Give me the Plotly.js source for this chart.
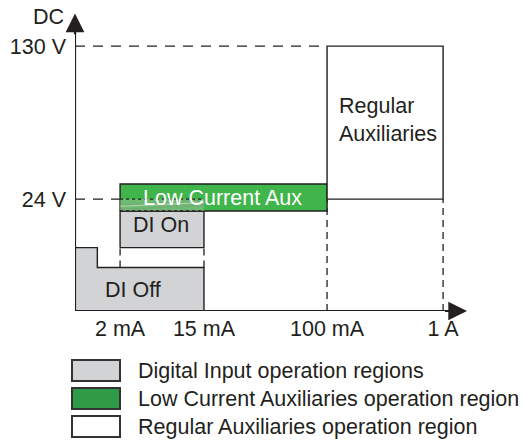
<!DOCTYPE html>
<html>
<head>
<meta charset="utf-8">
<script src="https://cdn.plot.ly/plotly-3.0.1.min.js"></script>
<style>html,body{margin:0;padding:0;background:#fff;}#chart{width:522px;height:440px;}</style>
</head>
<body>
<div id="chart"></div>
<script>
// ---- Data (schematic axis positions, 0..10 on both axes) ----
const currentLabels = ['2 mA', '15 mA', '100 mA', '1 A'];
const currentPos = [1.15, 3.29, 6.43, 9.39];
const voltageLabels = ['24 V', '130 V'];
const voltagePos = [3.78, 8.95];
const diOffStepX = 0.57;       // left step of DI Off region
const diOffLevels = [2.14, 1.47]; // DI Off top (left part), DI Off top (right part)
const diOnRange = [2.14, 3.38];   // DI On bottom / top
const lowCurrentRange = [3.38, 4.29]; // Low Current Aux bottom / top
const regionNames = ['Regular<br>Auxiliaries', 'Low Current Aux', 'DI On', 'DI Off'];
const legendLabels = ['Digital Input operation regions', 'Low Current Auxiliaries operation region', 'Regular Auxiliaries operation region'];

const INK = '#231f20';
const GRAY = '#d1d3d4';
const GREEN = '#3fb54b';
const GREEN_LEG = '#2f9b47';
const FONT = 'Liberation Sans, Arial, Helvetica, sans-serif';
const FS = 21.5;

const v24 = voltagePos[0], v130 = voltagePos[1];
const [x2m, x15m, x100m, x1A] = currentPos;

function line(x, y, dash, width, color) {
  return {x, y, type: 'scatter', mode: 'lines', hoverinfo: 'skip', showlegend: false,
          line: {color: color || INK, width: width || 1.3, dash: dash || 'solid'}};
}
function poly(x, y, fill, lw) {
  return {x, y, type: 'scatter', mode: 'lines', fill: 'toself', fillcolor: fill, hoverinfo: 'skip',
          showlegend: false, line: {color: INK, width: lw || 1.4}};
}

const traces = [];
// dashed guide lines
traces.push(line([0, x100m], [v130, v130], '10px,8px'));
traces.push(line([0, x2m], [v24, v24], '10px,8px'));
traces.push(line([x100m, x100m], [0, v24], '7px,5px'));
traces.push(line([x1A, x1A], [0, v24], '7px,5px'));
traces.push(line([x2m, x2m], [diOffLevels[1], diOnRange[0]], '7px,5px'));
traces.push(line([x15m, x15m], [diOffLevels[1], diOnRange[0]], '7px,5px'));

// DI Off region
traces.push(poly([0, 0, diOffStepX, diOffStepX, x15m, x15m, 0],
                 [0, diOffLevels[0], diOffLevels[0], diOffLevels[1], diOffLevels[1], 0, 0], GRAY));
// DI On region
traces.push(poly([x2m, x2m, x15m, x15m, x2m],
                 [diOnRange[0], diOnRange[1], diOnRange[1], diOnRange[0], diOnRange[0]], GRAY));
// Low Current Aux region
traces.push(poly([x2m, x2m, x100m, x100m, x2m],
                 [lowCurrentRange[0], lowCurrentRange[1], lowCurrentRange[1], lowCurrentRange[0], lowCurrentRange[0]], GREEN));
// overlap hatch (DI On / Low current)
traces.push({x: [x2m, x2m, x15m, x15m, x2m], y: [lowCurrentRange[0], v24, v24, lowCurrentRange[0], lowCurrentRange[0]],
             type: 'scatter', mode: 'lines', fill: 'toself', fillcolor: 'rgba(150,190,150,0.55)',
             line: {width: 0}, hoverinfo: 'skip', showlegend: false});
const hatchY = [lowCurrentRange[0], (lowCurrentRange[0] + v24) / 2, v24];
traces.push(line([x2m, x15m], [hatchY[0] + 0.05, hatchY[1]], 'solid', 0.6, 'rgba(120,150,120,0.8)'));
traces.push(line([x2m, x15m], [hatchY[1], hatchY[2] - 0.03], 'solid', 0.6, 'rgba(120,150,120,0.8)'));
traces.push(line([x2m, x15m], [hatchY[0] + 0.16, hatchY[2] - 0.12], 'solid', 0.6, 'rgba(230,240,230,0.9)'));
traces.push(line([x2m, x15m], [v24, v24], 'dot', 1.2));
traces.push(line([x2m, x15m], [lowCurrentRange[0], lowCurrentRange[0]], 'dot', 1.2));
// Regular Auxiliaries region
traces.push(poly([x100m, x100m, x1A, x1A, x100m], [v24, v130, v130, v24, v24], '#ffffff'));
// axes
traces.push(line([0, 9.7], [0, 0], 'solid', 2.2));
traces.push(line([0, 0], [0, 9.6], 'solid', 2.2));

// plot area geometry (for paper placement of legend)
const W = 522, H = 440, ML = 75, MR = 55, MT = 15, MB = 129;
const PW = W - ML - MR, PH = H - MT - MB;
const px = p => (p - ML) / PW;
const py = p => (H - MB - p) / PH;

const annotations = [
  {x: 10, y: 0, ax: 9.4, ay: 0, axref: 'x', ayref: 'y', xref: 'x', yref: 'y', text: '', showarrow: true,
   arrowhead: 2, arrowsize: 1.7, arrowwidth: 2.2, arrowcolor: INK},
  {x: 0, y: 10.05, ax: 0, ay: 9.3, axref: 'x', ayref: 'y', xref: 'x', yref: 'y', text: '', showarrow: true,
   arrowhead: 2, arrowsize: 1.7, arrowwidth: 2.2, arrowcolor: INK},
  {x: px(48), y: py(17), xref: 'paper', yref: 'paper', xanchor: 'center', yanchor: 'middle', text: 'DC', showarrow: false,
   font: {size: FS, color: INK, family: FONT}},
  {x: 6.68, y: 6.45, xref: 'x', yref: 'y', text: regionNames[0], showarrow: false, xanchor: 'left', yanchor: 'middle', align: 'left',
   font: {size: FS, color: INK, family: FONT}},
  {x: 3.75, y: 3.83, xref: 'x', yref: 'y', xanchor: 'center', yanchor: 'middle', text: regionNames[1], showarrow: false, font: {size: FS, color: '#ffffff', family: FONT}},
  {x: 2.19, y: 2.9, xref: 'x', yref: 'y', xanchor: 'center', yanchor: 'middle', text: regionNames[2], showarrow: false, font: {size: FS, color: INK, family: FONT}},
  {x: 1.47, y: 0.71, xref: 'x', yref: 'y', xanchor: 'center', yanchor: 'middle', text: regionNames[3], showarrow: false, font: {size: FS, color: INK, family: FONT}}
];

const legendFills = [GRAY, GREEN_LEG, '#ffffff'];
const legTops = [360, 388, 416];
const shapes = [];
legendLabels.forEach((lab, i) => {
  shapes.push({type: 'rect', xref: 'paper', yref: 'paper', x0: px(72), x1: px(120), y0: py(legTops[i]), y1: py(legTops[i] + 21),
               fillcolor: legendFills[i], line: {color: '#333333', width: 2}});
  annotations.push({x: px(136), y: py(legTops[i] + 10.5), xref: 'paper', yref: 'paper', xanchor: 'left', yanchor: 'middle',
                    text: lab, showarrow: false, font: {size: FS, color: INK, family: FONT}});
});

const layout = {
  width: W, height: H, margin: {l: ML, r: MR, t: MT, b: MB, pad: 0},
  paper_bgcolor: '#ffffff', plot_bgcolor: '#ffffff', showlegend: false,
  font: {family: FONT, size: FS, color: INK},
  xaxis: {range: [0, 10], showgrid: false, zeroline: false, showline: false, ticks: '',
          tickvals: currentPos, ticktext: currentLabels, tickfont: {size: FS, color: INK, family: FONT},
          ticklabelstandoff: 2, fixedrange: true},
  yaxis: {range: [0, 10], showgrid: false, zeroline: false, showline: false, ticks: '',
          tickvals: voltagePos, ticktext: voltageLabels, tickfont: {size: FS, color: INK, family: FONT},
          ticklabelstandoff: 8, fixedrange: true},
  annotations, shapes
};

Plotly.newPlot('chart', traces, layout, {displayModeBar: false, staticPlot: true});
</script>
</body>
</html>
